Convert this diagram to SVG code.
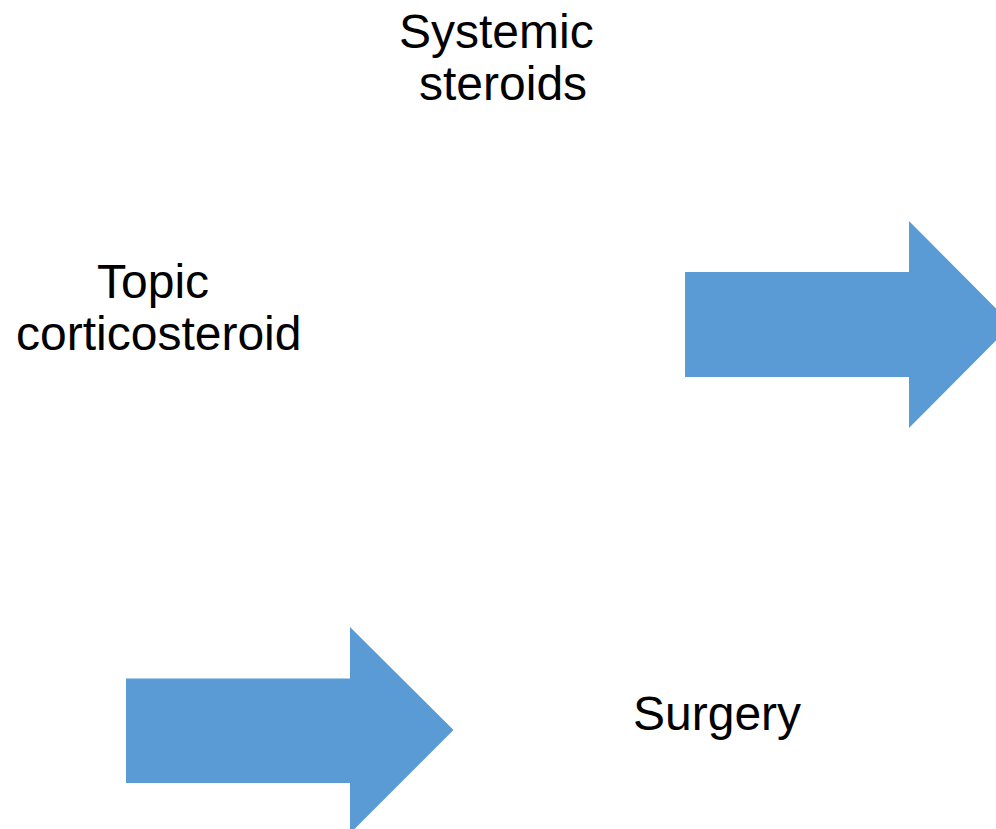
<svg xmlns="http://www.w3.org/2000/svg" width="996" height="829" viewBox="0 0 996 829">
<style>
.lbl{font-family:"Liberation Sans",Arial,sans-serif;font-size:48px;fill:#000}
.arr{fill:#5B9BD5}
</style>
<rect width="996" height="829" fill="#fff"/>
<g id="systemic-steroids">
<text class="lbl" x="399" y="48">Systemic</text>
<text class="lbl" x="419" y="100">steroids</text>
</g>
<g id="topic-corticosteroid">
<text class="lbl" x="97" y="298">Topic</text>
<text class="lbl" x="16" y="350">corticosteroid</text>
</g>
<g id="surgery">
<text class="lbl" x="633" y="730">Surgery</text>
</g>
<g id="connectors">
<polygon class="arr" points="685,272 909,272 909,221 1012,324.5 909,428 909,377 685,377"/>
<polygon class="arr" points="126,678.5 350,678.5 350,627 453.5,730 350,833.5 350,783 126,783"/>
</g>
</svg>
